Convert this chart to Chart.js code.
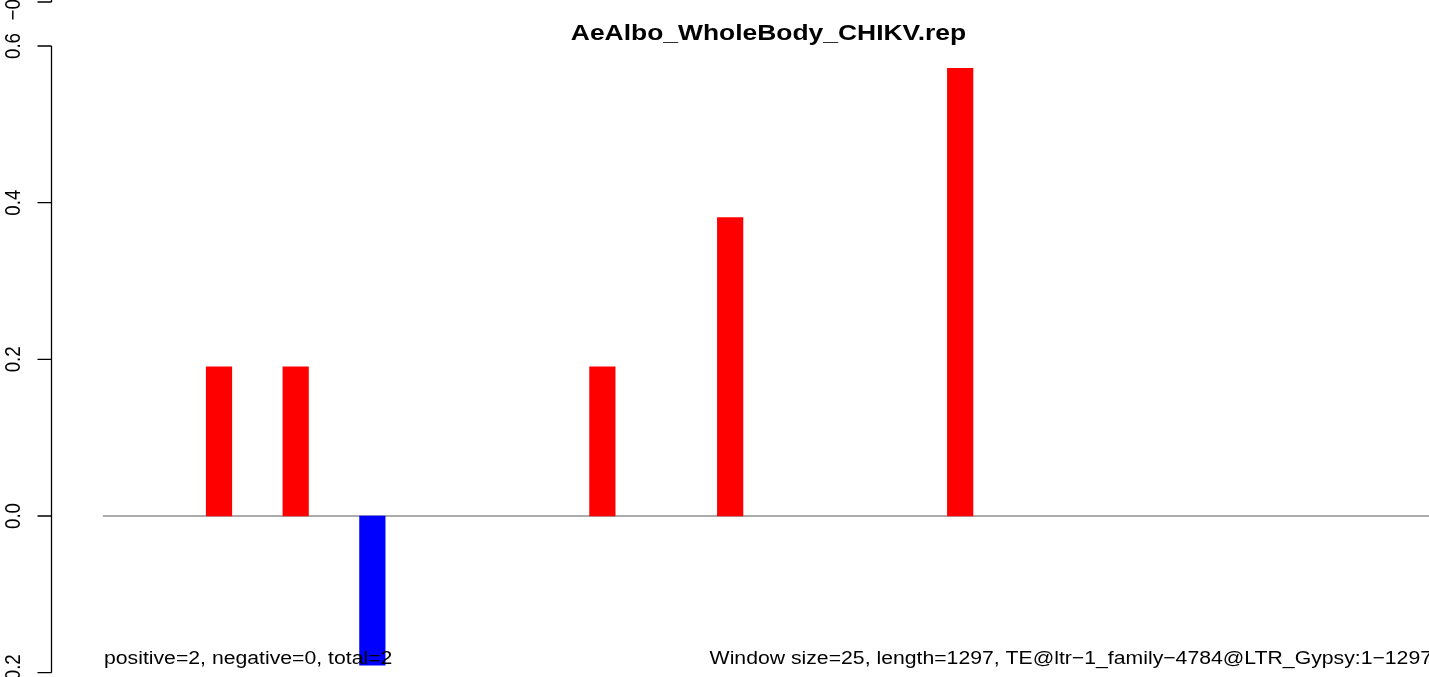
<!DOCTYPE html>
<html>
<head>
<meta charset="utf-8">
<script src="https://cdn.jsdelivr.net/npm/chart.js@4/dist/chart.umd.min.js"></script>
<style>
  html, body { margin: 0; padding: 0; background: #fff; overflow: hidden; }
  #wrap { position: absolute; left: 0; top: 0; width: 1434px; height: 677px; }
</style>
</head>
<body>
<div id="wrap"><canvas id="c" width="1434" height="677"></canvas></div>
<script>
// ── data: 52 windows of size 25 over a 1297 bp element ──
const windowStarts = Array.from({ length: 52 }, (_, i) => i * 25 + 1);
const barValues = [
  0, 0, 0, 0, 0.1905, 0, 0, 0.1905, 0, 0,
  -0.1905, 0, 0, 0, 0, 0, 0, 0, 0, 0.1905,
  0, 0, 0, 0, 0.381, 0, 0, 0, 0, 0,
  0, 0, 0, 0.5714, 0, 0, 0, 0, 0, 0,
  0, 0, 0, 0, 0, 0, 0, 0, 0, 0,
  0, 0
];
const yTicks = [-0.2, 0, 0.2, 0.4, 0.6];
const yTickLabels = ['\u22120.2', '0.0', '0.2', '0.4', '0.6'];
const titleText = 'AeAlbo_WholeBody_CHIKV.rep';
const leftNote = 'positive=2, negative=0, total=2';
const rightNote = 'Window size=25, length=1297, TE@ltr\u22121_family\u22124784@LTR_Gypsy:1\u22121297';

const FONT = '"Liberation Sans", Arial, Helvetica, sans-serif';

// source picture is stretched sideways a little, so text is too
function stretchedText(ctx, txt, x, y, align, font, sx) {
  ctx.save();
  ctx.font = font;
  ctx.translate(x, y);
  ctx.scale(sx, 1);
  ctx.textAlign = align;
  ctx.textBaseline = 'alphabetic';
  ctx.fillText(txt, 0, 0);
  ctx.restore();
}

// R-style decorations: offset y axis, zero line, title and notes
const rDecor = {
  id: 'rDecor',
  beforeDatasetsDraw(chart) {
    const { ctx, chartArea: a, scales: { y } } = chart;
    const y0 = y.getPixelForValue(0);
    ctx.save();
    ctx.strokeStyle = '#8f8f8f';
    ctx.lineWidth = 1.5;
    ctx.beginPath();
    ctx.moveTo(a.left - 1, y0);
    ctx.lineTo(a.right, y0);
    ctx.stroke();
    ctx.restore();
  },
  afterDatasetsDraw(chart) {
    const { ctx, chartArea: a, scales: { y } } = chart;
    const axisX = 51.5, tickX = 37.5, labX = 14;
    ctx.save();
    ctx.strokeStyle = '#000';
    ctx.fillStyle = '#000';
    ctx.lineWidth = 1.3;

    const top = y.getPixelForValue(yTicks[yTicks.length - 1]);
    const bot = y.getPixelForValue(yTicks[0]);
    ctx.beginPath();
    ctx.moveTo(axisX, top);
    ctx.lineTo(axisX, bot);
    yTicks.forEach(v => {
      const p = y.getPixelForValue(v);
      ctx.moveTo(tickX, p);
      ctx.lineTo(axisX, p);
    });
    // remnant of the panel above (its lowest tick)
    const upper = a.top + 2;
    ctx.moveTo(axisX, a.top - 1);
    ctx.lineTo(axisX, upper);
    ctx.moveTo(tickX, upper);
    ctx.lineTo(axisX, upper);
    ctx.stroke();

    const drawRot = (txt, p) => {
      ctx.save();
      ctx.translate(labX, p);
      ctx.scale(1.14, 1);
      ctx.rotate(-Math.PI / 2);
      ctx.font = '18.7px ' + FONT;
      ctx.textAlign = 'center';
      ctx.textBaseline = 'middle';
      ctx.fillText(txt, 0, 0);
      ctx.restore();
    };
    yTicks.forEach((v, i) => drawRot(yTickLabels[i], y.getPixelForValue(v)));
    drawRot('\u22120.2', upper);

    stretchedText(ctx, titleText, (a.left + a.right) / 2, 39.5, 'center', 'bold 22.4px ' + FONT, 1.18);
    stretchedText(ctx, leftNote, a.left, 664, 'left', '18.7px ' + FONT, 1.135);
    stretchedText(ctx, rightNote, a.right - 1, 664, 'right', '18.7px ' + FONT, 1.135);
    ctx.restore();
  }
};

new Chart(document.getElementById('c'), {
  type: 'bar',
  data: {
    labels: windowStarts,
    datasets: [{
      data: barValues,
      backgroundColor: barValues.map(v => v < 0 ? '#0000ff' : v > 0 ? '#ff0000' : 'rgba(0,0,0,0)'),
      borderWidth: 0,
      barPercentage: 1,
      categoryPercentage: 1
    }]
  },
  options: {
    responsive: false,
    animation: false,
    devicePixelRatio: 1,
    layout: { padding: { left: 104, right: 1, top: 0, bottom: 0 } },
    plugins: { legend: { display: false }, tooltip: { enabled: false }, title: { display: false } },
    scales: {
      x: { display: false, offset: true },
      y: { display: false, min: -0.2055, max: 0.6587 }
    }
  },
  plugins: [rDecor]
});
</script>
</body>
</html>
